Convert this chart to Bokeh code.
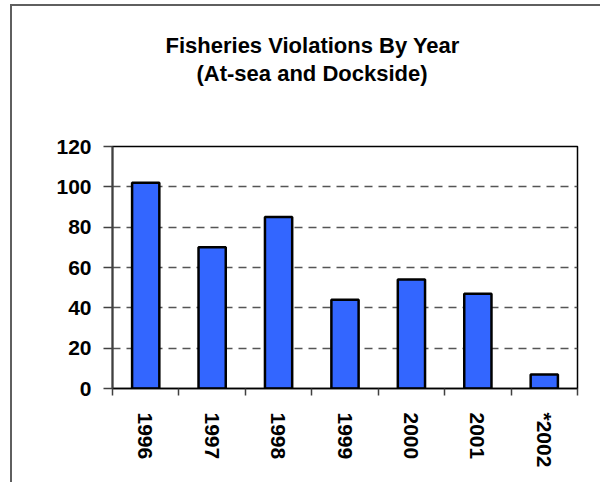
import numpy as np
from bokeh.plotting import figure
from bokeh.models import Range1d, FixedTicker, Title, ColumnDataSource
from bokeh.embed import file_html
from bokeh.resources import INLINE

# ---- data ----
years = ["1996", "1997", "1998", "1999", "2000", "2001", "*2002"]
violations = [102, 70, 85, 44, 54, 47, 7]
y_ticks = [0, 20, 40, 60, 80, 100, 120]
title_lines = ["Fisheries Violations By Year", "(At-sea and Dockside)"]

FONT = "Liberation Sans"
W, H = 590, 478
pos = list(range(len(years)))
src = ColumnDataSource(dict(x=pos, top=violations, year=years))

p = figure(width=W, height=H, output_backend="svg", toolbar_location=None,
           x_range=Range1d(-0.5, len(years) - 0.5), y_range=Range1d(0, 120),
           min_border_left=100, min_border_right=25, min_border_top=140,
           min_border_bottom=H - 382)
p.title_location = None
p.styles = {"margin-left": "10px", "margin-top": "4px",
            "border-left": "2px solid #5f5f5f", "border-top": "2px solid #5f5f5f"}
p.background_fill_color = "white"
p.border_fill_color = "white"
p.outline_line_color = "black"
p.outline_line_width = 1.5

# y axis
p.yaxis.ticker = FixedTicker(ticks=y_ticks)
p.yaxis.axis_line_color = "#404040"
p.yaxis.axis_line_width = 2
p.yaxis.major_tick_out = 9
p.yaxis.major_tick_in = 0
p.yaxis.major_tick_line_color = "#404040"
p.yaxis.major_tick_line_width = 1.5
p.yaxis.minor_tick_line_color = None
p.yaxis.major_label_text_font = FONT
p.yaxis.major_label_text_font_size = "21px"
p.yaxis.major_label_text_font_style = "bold"
p.yaxis.major_label_text_color = "black"
p.yaxis.major_label_standoff = 12

# x axis: labels at centres, ticks at category boundaries
p.xaxis.ticker = FixedTicker(ticks=pos, minor_ticks=[i - 0.5 for i in range(len(years) + 1)])
p.xaxis.major_label_overrides = {i: y for i, y in enumerate(years)}
p.xaxis.axis_line_color = "black"
p.xaxis.axis_line_width = 1.5
p.xaxis.major_tick_out = 0
p.xaxis.major_tick_in = 0
p.xaxis.major_tick_line_color = None
p.xaxis.minor_tick_out = 7
p.xaxis.minor_tick_in = 0
p.xaxis.minor_tick_line_color = "#404040"
p.xaxis.minor_tick_line_width = 1.5
p.xaxis.major_label_orientation = "vertical"
p.xaxis.major_label_standoff = 17
p.xaxis.major_label_text_font = FONT
p.xaxis.major_label_text_font_size = "21px"
p.xaxis.major_label_text_font_style = "bold"
p.xaxis.major_label_text_color = "black"

# grid
p.xgrid.visible = False
p.ygrid.ticker = FixedTicker(ticks=y_ticks)
p.ygrid.grid_line_color = "#555555"
p.ygrid.grid_line_width = 1.5
p.ygrid.grid_line_dash = "8 6"

# bars
p.vbar(x="x", top="top", width=0.41, bottom=0, source=src,
       fill_color="#3366FF", line_color="black", line_width=2.5)

# blank spacer between frame and title
p.add_layout(Title(text=" ", standoff=47, text_font=FONT,
                   text_font_size="10px", text_color="white"), "above")

# title (two lines) as stacked Title annotations
p.add_layout(Title(text=title_lines[1], align="left", offset=84, standoff=2,
                   text_font=FONT, text_font_size="22px",
                   text_font_style="bold", text_color="black"), "above")
p.add_layout(Title(text=title_lines[0], align="left", offset=53, standoff=0,
                   text_font=FONT, text_font_size="22px",
                   text_font_style="bold", text_color="black"), "above")

open("out.html", "w").write(file_html(p, INLINE))
